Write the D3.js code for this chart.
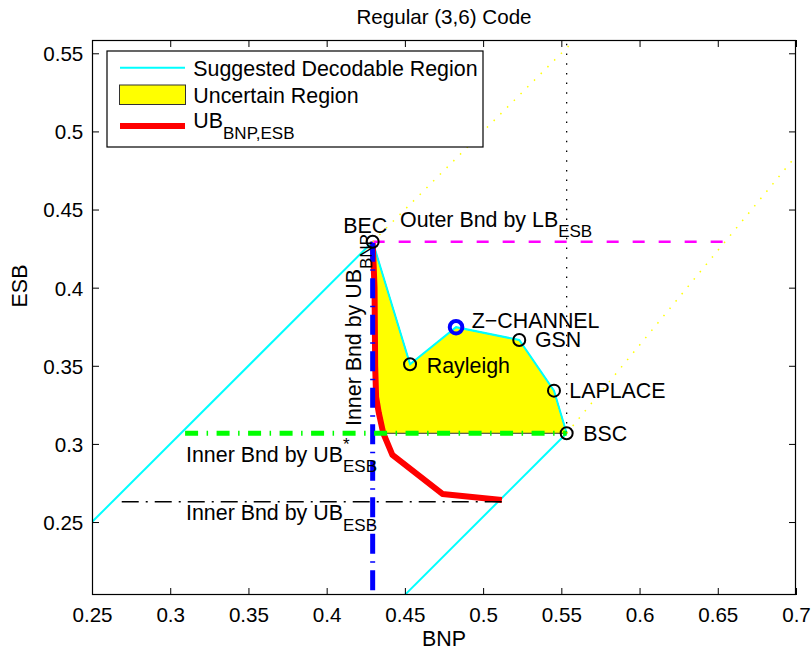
<!DOCTYPE html>
<html>
<head>
<meta charset="utf-8">
<script src="https://cdn.jsdelivr.net/npm/d3@7"></script>
<style>
  html, body { margin: 0; padding: 0; background: #fff; }
  svg { display: block; font-family: "Liberation Sans", Arial, Helvetica, sans-serif; }
</style>
</head>
<body>
<svg id="chart" width="812" height="650"></svg>
<script>
// ---- data -------------------------------------------------------------
const channelNames = ["BEC", "Rayleigh", "Z\u2212CHANNEL", "GSN", "LAPLACE", "BSC"];
const channelBNP   = [0.4294, 0.4533, 0.4827, 0.5231, 0.5453, 0.5534];
const channelESB   = [0.4294, 0.3510, 0.3747, 0.3665, 0.3341, 0.3068];

// UB_{BNP,ESB} curve
const ubBNP = [0.4294, 0.4306, 0.4310, 0.4316, 0.4333, 0.4362, 0.4420, 0.4740, 0.5120];
const ubESB = [0.4294, 0.4000, 0.3500, 0.3300, 0.3200, 0.3068, 0.2930, 0.2680, 0.2641];

// suggested decodable region boundaries (diagonals)
const diagLowBNP = [0.2500, 0.4294];   // y = x up to BEC
const diagLowESB = [0.2500, 0.4294];
const diagBscBNP = [0.5534, 0.4500];   // from BSC down to the lower edge
const diagBscESB = [0.3068, 0.2034];

// dotted extensions
const extUpBNP = [0.4294, 0.5585];     // y = x above BEC
const extUpESB = [0.4294, 0.5585];
const extBscBNP = [0.5534, 0.7000];    // rising line from BSC
const extBscESB = [0.3068, 0.4843];

// bounds
const innerBnpX      = 0.4294;              // Inner Bnd by UB_BNP (vertical)
const innerEsbStarY  = 0.3068;              // Inner Bnd by UB*_ESB
const innerEsbStarX  = [0.3095, 0.5534];
const innerEsbY      = 0.2630;              // Inner Bnd by UB_ESB
const innerEsbX      = [0.2690, 0.5120];
const outerEsbY      = 0.4294;              // Outer Bnd by LB_ESB
const outerEsbX      = [0.4294, 0.6546];
const bscLineX       = 0.5534;              // vertical dotted through BSC
const bscLineY       = [0.3068, 0.5585];

// axes
const xTicks = [0.25, 0.3, 0.35, 0.4, 0.45, 0.5, 0.55, 0.6, 0.65, 0.7];
const xTickLabels = ["0.25", "0.3", "0.35", "0.4", "0.45", "0.5", "0.55", "0.6", "0.65", "0.7"];
const yTicks = [0.25, 0.3, 0.35, 0.4, 0.45, 0.5, 0.55];
const yTickLabels = ["0.25", "0.3", "0.35", "0.4", "0.45", "0.5", "0.55"];
const xDomain = [0.25, 0.7];
const yDomain = [0.2033, 0.5585];

// ---- layout -----------------------------------------------------------
const svg = d3.select("#chart");
const L = 92, R = 796, T = 40, B = 595;
const x = d3.scaleLinear().domain(xDomain).range([L, R]);
const y = d3.scaleLinear().domain(yDomain).range([B, T]);
const FS = 21.4, SUB = 17;

const zip = (a, b) => a.map((v, i) => [v, b[i]]);
const line = d3.line().x(d => x(d[0])).y(d => y(d[1]));

svg.append("defs").append("clipPath").attr("id", "plotClip")
  .append("rect").attr("x", L).attr("y", T).attr("width", R - L).attr("height", B - T);

const plot = svg.append("g").attr("clip-path", "url(#plotClip)");

// uncertain region: channel chain BEC..BSC, then back along the bound and the UB curve
const ubPts = zip(ubBNP, ubESB);
const chain = zip(channelBNP, channelESB);
const regionPts = chain.concat(ubPts.slice(1, 6).reverse());
plot.append("path")
  .attr("d", line(regionPts) + "Z")
  .attr("fill", "#ffff00")
  .attr("stroke", "#333")
  .attr("stroke-width", 1);

// suggested decodable region (cyan)
const cyan = "#00ffff";
[zip(diagLowBNP, diagLowESB), chain, zip(diagBscBNP, diagBscESB)].forEach(pts => {
  plot.append("path").attr("d", line(pts))
    .attr("fill", "none").attr("stroke", cyan).attr("stroke-width", 2);
});

// UB_{BNP,ESB}
plot.append("path").attr("d", line(ubPts))
  .attr("fill", "none").attr("stroke", "#ff0000").attr("stroke-width", 6)
  .attr("stroke-linejoin", "round");

// Inner Bnd by UB_BNP (blue dash-dot)
plot.append("path").attr("d", line([[innerBnpX, outerEsbY], [innerBnpX, yDomain[0]]]))
  .attr("fill", "none").attr("stroke", "#0000ff").attr("stroke-width", 5)
  .attr("stroke-dasharray", "20,7.5,1.5,7.5");

// Inner Bnd by UB*_ESB (green dash-dot)
plot.append("path").attr("d", line([[innerEsbStarX[0], innerEsbStarY], [innerEsbStarX[1], innerEsbStarY]]))
  .attr("fill", "none").attr("stroke", "#00ff00").attr("stroke-width", 5)
  .attr("stroke-dasharray", "13,8.5,1.5,8.5");

// Outer Bnd by LB_ESB (magenta dashed)
plot.append("path").attr("d", line([[outerEsbX[0], outerEsbY], [outerEsbX[1], outerEsbY]]))
  .attr("fill", "none").attr("stroke", "#ff00ff").attr("stroke-width", 2.5)
  .attr("stroke-dasharray", "12,14");

// vertical dotted through BSC
plot.append("path").attr("d", line([[bscLineX, bscLineY[0]], [bscLineX, bscLineY[1]]]))
  .attr("fill", "none").attr("stroke", "#000").attr("stroke-width", 1.3)
  .attr("stroke-dasharray", "1.5,8.2");

// yellow dotted extensions
[zip(extUpBNP, extUpESB), zip(extBscBNP, extBscESB)].forEach(pts => {
  plot.append("path").attr("d", line(pts))
    .attr("fill", "none").attr("stroke", "#ffff00").attr("stroke-width", 1.5)
    .attr("stroke-dasharray", "1.5,8");
});

// Inner Bnd by UB_ESB (black dash-dot)
plot.append("path").attr("d", line([[innerEsbX[0], innerEsbY], [innerEsbX[1], innerEsbY]]))
  .attr("fill", "none").attr("stroke", "#000").attr("stroke-width", 1.5)
  .attr("stroke-dasharray", "17,7,2,7");

// channel markers
chain.forEach((p, i) => {
  const isZ = channelNames[i].startsWith("Z");
  plot.append("circle")
    .attr("cx", x(p[0])).attr("cy", y(p[1]))
    .attr("r", isZ ? 6.3 : 6)
    .attr("fill", "none")
    .attr("stroke", isZ ? "#0000ff" : "#000")
    .attr("stroke-width", isZ ? 4 : 2);
});

// ---- axes box and ticks -----------------------------------------------
const axes = svg.append("g");
const fmtX = d => xTickLabels[xTicks.indexOf(d)];
const fmtY = d => yTickLabels[yTicks.indexOf(d)];

const gx = axes.append("g").attr("transform", `translate(0,${B})`)
  .call(d3.axisBottom(x).tickValues(xTicks).tickSize(-7).tickPadding(12).tickFormat(fmtX));
const gxt = axes.append("g").attr("transform", `translate(0,${T})`)
  .call(d3.axisTop(x).tickValues(xTicks).tickSize(-7).tickFormat(""));
const gy = axes.append("g").attr("transform", `translate(${L},0)`)
  .call(d3.axisLeft(y).tickValues(yTicks).tickSize(-7).tickPadding(9).tickFormat(fmtY));
const gyr = axes.append("g").attr("transform", `translate(${R},0)`)
  .call(d3.axisRight(y).tickValues(yTicks).tickSize(-7).tickFormat(""));

[gx, gxt, gy, gyr].forEach(g => {
  g.select(".domain").remove();
  g.selectAll(".tick line").attr("stroke", "#000").attr("stroke-width", 1);
  g.selectAll(".tick text").attr("fill", "#000").attr("font-size", 20.6)
    .attr("font-family", "Liberation Sans, Arial, Helvetica, sans-serif");
});
gx.selectAll(".tick text").attr("dy", null).attr("y", 27);
gy.selectAll(".tick text").attr("dy", "0.36em").attr("x", -8.7);

axes.append("rect").attr("x", L + 0.5).attr("y", T + 0.5)
  .attr("width", R - L - 1).attr("height", B - T - 1)
  .attr("fill", "none").attr("stroke", "#000").attr("stroke-width", 1.2);

// ---- titles -----------------------------------------------------------
svg.append("text").attr("x", (L + R) / 2).attr("y", 24)
  .attr("text-anchor", "middle").attr("font-size", 20.6).text("Regular (3,6) Code");
svg.append("text").attr("x", (L + R) / 2).attr("y", 646)
  .attr("text-anchor", "middle").attr("font-size", FS).text("BNP");
svg.append("text").attr("transform", "translate(27,286) rotate(-90)")
  .attr("text-anchor", "middle").attr("font-size", FS).text("ESB");

// ---- annotations ------------------------------------------------------
const labelOffsets = {
  "BEC": [14.6, -8.4, "end"],
  "Rayleigh": [16.7, 8.4, "start"],
  "Z\u2212CHANNEL": [15.7, 0.4, "start"],
  "GSN": [15.7, 6.7, "start"],
  "LAPLACE": [15.3, 7, "start"],
  "BSC": [16.6, 7.4, "start"]
};
chain.forEach((p, i) => {
  const o = labelOffsets[channelNames[i]];
  svg.append("text").attr("x", x(p[0]) + o[0]).attr("y", y(p[1]) + o[1])
    .attr("text-anchor", o[2]).attr("font-size", FS).text(channelNames[i]);
});

function subText(parent, attrs, main, sub, sup) {
  const t = parent.append("text").attr("font-size", FS);
  Object.entries(attrs).forEach(([k, v]) => t.attr(k, v));
  t.append("tspan").text(main);
  if (sup) {
    t.append("tspan").attr("font-size", SUB).attr("dy", -11.7).text(sup);
    t.append("tspan").attr("font-size", SUB).attr("dx", -6.6).attr("dy", 21.7).text(sub);
  } else {
    t.append("tspan").attr("font-size", SUB).attr("dy", 10.5).text(sub);
  }
  return t;
}

subText(svg, { x: 400, y: 226.7 }, "Outer Bnd by LB", "ESB");
subText(svg, { x: 186, y: 461.7 }, "Inner Bnd by UB", "ESB", "*");
subText(svg, { x: 186, y: 520 }, "Inner Bnd by UB", "ESB");
subText(svg, { transform: "translate(361,426) rotate(-90)" }, "Inner Bnd by UB", "BNP");

// ---- legend -----------------------------------------------------------
const leg = svg.append("g");
leg.append("rect").attr("x", 107).attr("y", 51).attr("width", 376).attr("height", 96)
  .attr("fill", "#fff").attr("stroke", "#000").attr("stroke-width", 1.2);
leg.append("line").attr("x1", 120).attr("x2", 185).attr("y1", 67.7).attr("y2", 67.7)
  .attr("stroke", cyan).attr("stroke-width", 2);
leg.append("text").attr("x", 193.3).attr("y", 75.7).attr("font-size", FS)
  .text("Suggested Decodable Region");
leg.append("rect").attr("x", 119.5).attr("y", 85).attr("width", 66).attr("height", 19.5)
  .attr("fill", "#ffff00").attr("stroke", "#333").attr("stroke-width", 1);
leg.append("text").attr("x", 193.3).attr("y", 103.3).attr("font-size", FS)
  .text("Uncertain Region");
leg.append("line").attr("x1", 120).attr("x2", 185).attr("y1", 126).attr("y2", 126)
  .attr("stroke", "#ff0000").attr("stroke-width", 6);
subText(leg, { x: 193.3, y: 128 }, "UB", "BNP,ESB");
</script>
</body>
</html>
